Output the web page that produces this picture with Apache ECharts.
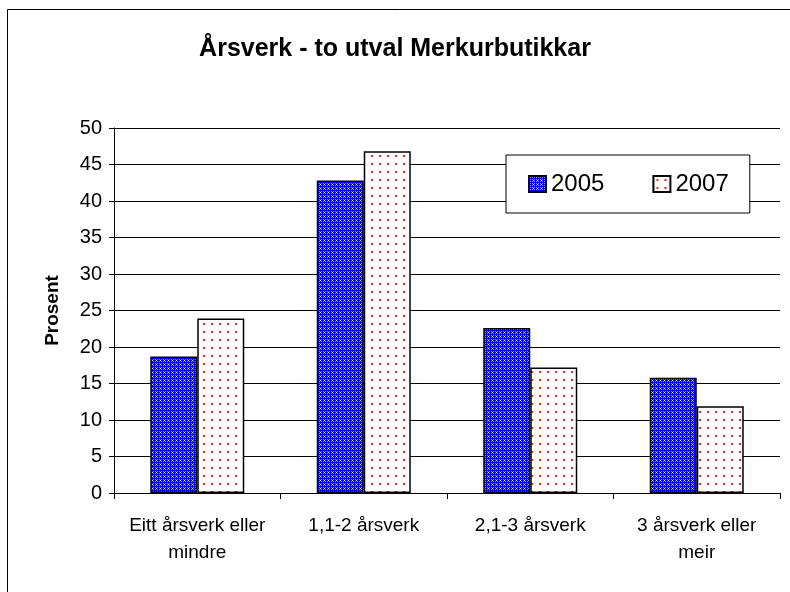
<!DOCTYPE html>
<html>
<head>
    <meta charset="utf-8">
    <title>Årsverk - to utval Merkurbutikkar</title>
    <script src="https://cdn.jsdelivr.net/npm/echarts@6/dist/echarts.min.js"></script>
    <style>
        html, body { margin: 0; padding: 0; background: #fff; }
        #main { width: 790px; height: 592px; }
    </style>
</head>
<body>
<div id="main"></div>
<script type="text/javascript">
    // data
    var categories = ['Eitt årsverk eller\nmindre', '1,1-2 årsverk', '2,1-3 årsverk', '3 årsverk eller\nmeir'];
    var values2005 = [18.7, 42.8, 22.6, 15.8];
    var values2007 = [23.9, 46.8, 17.2, 11.9];
    var seriesNames = ['2005', '2007'];

    // blue cross-hatch fill
    function bluePattern() {
        var c = document.createElement('canvas');
        c.width = 4; c.height = 4;
        var ctx = c.getContext('2d');
        ctx.fillStyle = '#0000ff';
        ctx.fillRect(0, 0, 4, 4);
        ctx.fillStyle = '#8c8cff';
        ctx.fillRect(1, 1, 1, 1);
        ctx.fillRect(3, 3, 1, 1);
        ctx.fillRect(1, 3, 1, 1);
        ctx.fillRect(3, 1, 1, 1);
        ctx.fillStyle = '#e0e0ff';
        ctx.fillRect(0, 0, 1, 1);
        return c;
    }
    // red dotted fill
    function redPattern() {
        var c = document.createElement('canvas');
        c.width = 8; c.height = 8;
        var ctx = c.getContext('2d');
        ctx.fillStyle = '#ffffff';
        ctx.fillRect(0, 0, 8, 8);
        ctx.fillStyle = '#ff2020';
        ctx.fillRect(3, 3, 2, 2);
        return c;
    }

    var chart = echarts.init(document.getElementById('main'));
    var font = 'Liberation Sans, Arial, sans-serif';

    chart.setOption({
        animation: false,
        backgroundColor: '#ffffff',
        title: {
            text: 'Årsverk - to utval Merkurbutikkar',
            left: 'center',
            top: 32,
            textStyle: { fontFamily: font, fontSize: 25, fontWeight: 'bold', color: '#000' }
        },
        legend: {
            data: seriesNames,
            icon: 'rect',
            left: 506,
            top: 155,
            padding: [17, 21, 17, 22],
            itemGap: 48,
            itemWidth: 17,
            itemHeight: 16,
            borderColor: '#000',
            borderWidth: 1,
            backgroundColor: '#fff',
            textStyle: { fontFamily: font, fontSize: 24, color: '#000' }
        },
        grid: { left: 114, right: 10, top: 128, bottom: 99 },
        xAxis: {
            type: 'category',
            data: categories,
            axisLine: { lineStyle: { color: '#000', width: 1 } },
            axisTick: { show: true, interval: 0, length: 6, lineStyle: { color: '#000' } },
            axisLabel: { interval: 0, fontFamily: font, fontSize: 19, color: '#000', margin: 19, lineHeight: 27 }
        },
        yAxis: {
            type: 'value',
            min: 0,
            max: 50,
            interval: 5,
            name: 'Prosent',
            nameLocation: 'middle',
            nameGap: 52,
            nameTextStyle: { fontFamily: font, fontSize: 19, fontWeight: 'bold', color: '#000' },
            axisLine: { show: true, lineStyle: { color: '#000', width: 1 } },
            axisTick: { show: true, length: 5, lineStyle: { color: '#000' } },
            axisLabel: { fontFamily: font, fontSize: 20, color: '#000', margin: 12 },
            splitLine: { lineStyle: { color: '#000', width: 1 } }
        },
        graphic: [{
            type: 'rect',
            shape: { x: 7.5, y: 9.5, width: 820, height: 620 },
            style: { fill: 'none', stroke: '#000', lineWidth: 1 },
            silent: true
        }],
        series: [{
            name: seriesNames[0],
            type: 'bar',
            data: values2005,
            barWidth: 47,
            barGap: '0%',
            itemStyle: { color: { image: bluePattern(), repeat: 'repeat' }, borderColor: '#000', borderWidth: 1.5 }
        }, {
            name: seriesNames[1],
            type: 'bar',
            data: values2007,
            barWidth: 47,
            itemStyle: { color: { image: redPattern(), repeat: 'repeat' }, borderColor: '#000', borderWidth: 1.5 }
        }]
    });
</script>
</body>
</html>
